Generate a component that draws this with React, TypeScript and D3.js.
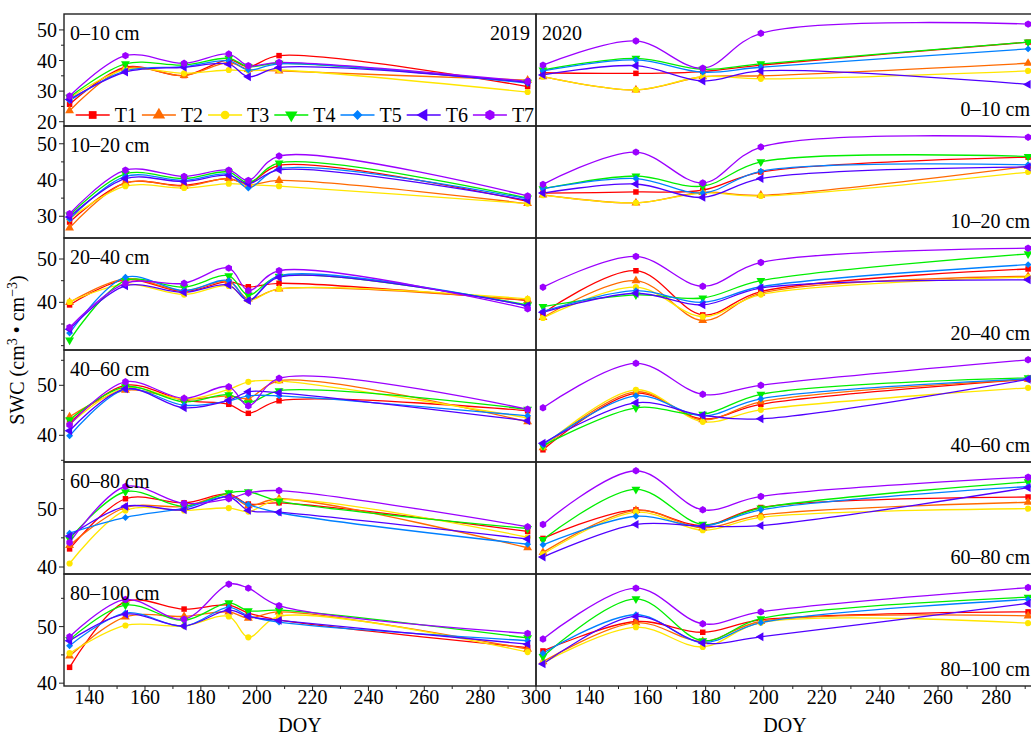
import React, { useRef, useEffect } from "react";
import * as d3 from "d3";

// sampling days (DOY) for each year
const doy2019 = [133, 153, 174, 190, 197, 208, 297];
const doy2020 = [124, 156, 179, 199, 291];

const treatments = ["T1", "T2", "T3", "T4", "T5", "T6", "T7"];
const colors = ["#ff0000", "#ff6a00", "#ffe600", "#00ee00", "#0080ff", "#5000ff", "#9b00ff"];
const depths = ["0–10 cm", "10–20 cm", "20–40 cm", "40–60 cm", "60–80 cm", "80–100 cm"];

// rows = T1..T7, columns = sampling days
const swc2019_0_10 = [
  [25.7, 37.8, 35.1, 40.2, 38.0, 41.6, 31.5],
  [23.6, 37.5, 35.1, 39.3, 37.1, 36.6, 33.6],
  [27.7, 37.1, 35.8, 36.9, 36.7, 36.9, 29.7],
  [28.0, 38.9, 38.5, 40.7, 38.0, 39.1, 32.9],
  [26.9, 36.6, 38.0, 39.9, 36.9, 38.9, 32.6],
  [27.3, 36.2, 37.8, 38.8, 34.7, 37.7, 32.9],
  [28.4, 41.6, 39.1, 42.1, 38.3, 39.4, 33.2],
];
const swc2020_0_10 = [
  [36.0, 35.8, 36.4, 38.5, 46.0],
  [34.7, 30.4, 34.7, 35.0, 39.1],
  [34.7, 30.4, 34.7, 34.0, 36.6],
  [36.9, 40.7, 37.1, 38.9, 46.0],
  [36.6, 40.2, 36.2, 37.8, 43.8],
  [35.3, 38.3, 33.3, 36.6, 32.2],
  [38.5, 46.4, 37.5, 48.9, 51.9],
];
const swc2019_10_20 = [
  [28.4, 39.2, 38.5, 40.4, 39.0, 44.0, 34.1],
  [26.8, 39.2, 38.3, 40.4, 38.7, 39.9, 33.5],
  [29.3, 38.3, 37.8, 39.0, 38.7, 38.3, 33.5],
  [30.3, 41.7, 40.4, 42.2, 39.2, 44.7, 35.0],
  [29.2, 41.0, 39.9, 41.6, 37.8, 43.1, 34.8],
  [29.8, 40.4, 39.6, 41.3, 39.0, 42.8, 34.4],
  [30.7, 42.7, 41.0, 42.7, 39.9, 46.6, 35.6],
];
const swc2020_10_20 = [
  [36.4, 36.7, 37.2, 42.2, 46.3],
  [35.9, 33.7, 36.6, 35.8, 43.8],
  [35.8, 33.7, 36.4, 35.6, 42.2],
  [37.6, 41.1, 38.3, 45.0, 46.5],
  [37.6, 40.4, 36.4, 42.4, 44.2],
  [36.4, 38.9, 35.2, 40.4, 43.6],
  [38.8, 47.7, 39.2, 49.1, 51.8],
];
const swc2019_20_40 = [
  [39.4, 45.2, 42.5, 44.8, 43.6, 44.4, 40.4],
  [40.0, 45.4, 42.7, 44.8, 40.8, 43.1, 40.5],
  [40.1, 44.2, 41.8, 43.8, 40.5, 43.1, 40.8],
  [31.3, 45.0, 43.5, 46.1, 41.7, 46.0, 39.4],
  [32.9, 45.8, 42.7, 45.0, 40.5, 46.1, 39.2],
  [33.8, 43.8, 42.3, 44.0, 40.4, 45.8, 39.2],
  [34.2, 44.4, 44.4, 47.9, 42.7, 47.3, 38.5],
];
const swc2020_20_40 = [
  [37.5, 47.3, 37.1, 42.5, 47.7],
  [36.5, 45.0, 35.8, 42.1, 46.0],
  [36.4, 43.5, 36.7, 41.8, 45.8],
  [39.0, 41.7, 41.0, 45.0, 51.2],
  [37.9, 42.7, 40.0, 43.6, 48.7],
  [37.7, 42.1, 39.4, 43.3, 45.2],
  [43.5, 50.6, 43.7, 49.2, 52.5],
];
const swc2019_40_60 = [
  [42.5, 50.0, 47.0, 46.2, 44.4, 46.9, 44.9],
  [43.7, 49.0, 47.2, 47.9, 47.4, 50.9, 42.7],
  [42.2, 49.5, 47.2, 49.2, 50.7, 50.9, 43.5],
  [43.1, 49.7, 46.7, 48.1, 46.5, 48.9, 45.2],
  [39.9, 49.2, 46.0, 46.9, 47.9, 47.9, 43.9],
  [40.9, 49.3, 45.5, 47.0, 48.7, 48.5, 42.9],
  [42.1, 50.7, 47.4, 49.7, 45.9, 51.4, 45.2],
];
const swc2020_40_60 = [
  [37.1, 48.4, 43.3, 46.2, 51.2],
  [37.5, 48.7, 43.1, 46.7, 51.2],
  [37.7, 49.1, 42.7, 45.1, 49.5],
  [37.9, 45.5, 44.2, 48.2, 51.5],
  [38.1, 47.9, 43.9, 47.3, 51.3],
  [38.4, 46.5, 44.0, 43.3, 51.2],
  [45.5, 54.4, 48.2, 50.0, 55.1],
];
const swc2019_60_80 = [
  [43.1, 51.7, 51.0, 52.5, 50.8, 51.0, 46.1],
  [43.7, 50.2, 50.4, 52.4, 50.5, 51.7, 43.3],
  [40.6, 49.7, 49.7, 50.1, 49.5, 51.5, 45.1],
  [44.8, 52.9, 50.4, 52.7, 52.9, 51.3, 46.6],
  [45.8, 48.5, 50.1, 52.1, 50.7, 49.3, 43.9],
  [45.3, 50.4, 49.8, 52.0, 49.7, 49.4, 44.8],
  [44.2, 53.8, 50.9, 51.7, 52.7, 53.1, 46.9],
];
const swc2020_60_80 = [
  [44.9, 49.8, 47.1, 50.2, 52.0],
  [42.5, 49.7, 46.7, 48.9, 51.1],
  [42.2, 49.4, 46.3, 48.5, 50.0],
  [44.7, 53.3, 47.3, 50.1, 54.6],
  [43.8, 48.7, 47.0, 49.8, 53.8],
  [41.7, 47.3, 47.0, 47.1, 53.6],
  [47.3, 56.5, 49.8, 52.1, 55.4],
];
const swc2019_80_100 = [
  [42.8, 54.4, 53.1, 53.8, 52.4, 51.2, 46.3],
  [44.8, 51.7, 51.8, 52.6, 51.5, 52.6, 46.0],
  [45.3, 50.2, 50.1, 51.8, 48.1, 51.8, 45.5],
  [47.7, 53.8, 51.1, 54.2, 52.8, 52.9, 48.0],
  [46.6, 52.4, 50.1, 53.4, 51.9, 50.8, 47.5],
  [47.5, 52.2, 50.1, 52.9, 51.8, 51.1, 46.9],
  [48.2, 54.8, 51.3, 57.5, 56.8, 53.7, 48.8],
];
const swc2020_80_100 = [
  [45.7, 50.9, 49.0, 51.2, 52.6],
  [43.8, 50.7, 47.4, 50.9, 51.9],
  [43.6, 49.9, 46.4, 50.7, 50.6],
  [44.7, 54.9, 47.5, 51.4, 55.2],
  [45.3, 52.1, 47.2, 50.7, 54.8],
  [43.4, 51.8, 47.1, 48.2, 54.1],
  [47.8, 56.8, 50.5, 52.6, 56.9],
];

const rows2019 = [swc2019_0_10, swc2019_10_20, swc2019_20_40, swc2019_40_60, swc2019_60_80, swc2019_80_100];
const rows2020 = [swc2020_0_10, swc2020_10_20, swc2020_20_40, swc2020_40_60, swc2020_60_80, swc2020_80_100];

// y axis per depth row
const yDomains = [[18.6, 55.2], [24.0, 54.9], [29.0, 54.85], [34.66, 57.06], [38.8, 58.0], [39.5, 59.3]];
const yTicks = [[20, 25, 30, 35, 40, 45, 50], [30, 35, 40, 45, 50], [30, 35, 40, 45, 50], [35, 40, 45, 50, 55], [40, 45, 50, 55], [40, 45, 50, 55]];
const yLabels = [[20, 30, 40, 50], [30, 40, 50], [40, 50], [40, 50], [40, 50], [40, 50]];

const FONT = "'Liberation Serif', 'Times New Roman', serif";

const symbolHex = {
  draw(ctx, size) {
    const r = Math.sqrt(size / (1.5 * Math.sqrt(3)));
    for (let i = 0; i < 6; i++) {
      const a = (Math.PI / 3) * i + Math.PI / 6;
      if (i === 0) ctx.moveTo(r * Math.cos(a), r * Math.sin(a));
      else ctx.lineTo(r * Math.cos(a), r * Math.sin(a));
    }
    ctx.closePath();
  },
};
const markerTypes = [d3.symbolSquare, d3.symbolTriangle, d3.symbolCircle, d3.symbolTriangle, d3.symbolSquare, d3.symbolTriangle, symbolHex];
const markerRot = [0, 0, 0, 180, 45, -90, 0];
const markerSize = [30, 34, 30, 34, 24, 34, 36];

const App = () => {
  const svgRef = useRef(null);

  useEffect(() => {
    const svg = d3.select(svgRef.current);
    svg.selectAll("*").remove();

    const top = 14, rowH = 112;
    const xL = d3.scaleLinear().domain([131, 300]).range([64, 536]);
    const xR = d3.scaleLinear().domain([121.6, 292]).range([536, 1031]);

    const drawMarker = (g, i, cx, cy, scale = 1) => {
      g.append("path")
        .attr("d", d3.symbol().type(markerTypes[i]).size(markerSize[i] * scale)())
        .attr("transform", `translate(${cx},${cy}) rotate(${markerRot[i]})`)
        .attr("fill", colors[i]);
    };

    depths.forEach((depth, r) => {
      const y0 = top + r * rowH;
      const y = d3.scaleLinear().domain(yDomains[r]).range([y0 + rowH, y0]);

      [[xL, doy2019, rows2019[r]], [xR, doy2020, rows2020[r]]].forEach(([x, days, series]) => {
        const g = svg.append("g");
        const line = d3.line()
          .x(d => x(d[0]))
          .y(d => y(d[1]))
          .curve(d3.curveCatmullRom.alpha(0.5));
        series.forEach((vals, i) => {
          const pts = vals.map((v, k) => [days[k], v]);
          g.append("path")
            .attr("d", line(pts))
            .attr("fill", "none")
            .attr("stroke", colors[i])
            .attr("stroke-width", 1.3);
        });
        series.forEach((vals, i) => {
          vals.forEach((v, k) => drawMarker(g, i, x(days[k]), y(v)));
        });
      });

      // frames
      svg.append("rect").attr("x", 64).attr("y", y0).attr("width", 472).attr("height", rowH)
        .attr("fill", "none").attr("stroke", "#222").attr("stroke-width", 1.4);
      svg.append("rect").attr("x", 536).attr("y", y0).attr("width", 500).attr("height", rowH)
        .attr("fill", "none").attr("stroke", "#222").attr("stroke-width", 1.4);

      // y ticks
      yTicks[r].forEach(t => {
        const major = yLabels[r].includes(t);
        svg.append("line").attr("x1", 64).attr("x2", 64 - (major ? 5 : 3))
          .attr("y1", y(t)).attr("y2", y(t)).attr("stroke", "#222");
      });
      yLabels[r].forEach(t => {
        svg.append("text").attr("x", 57).attr("y", y(t)).attr("dy", "0.35em")
          .attr("text-anchor", "end").style("font-family", FONT).style("font-size", "20px")
          .text(t);
      });

      // panel labels
      svg.append("text").attr("x", 70).attr("y", y0 + 26)
        .style("font-family", FONT).style("font-size", "20px").text(depth);
      svg.append("text").attr("x", 1030).attr("y", y0 + rowH - 10).attr("text-anchor", "end")
        .style("font-family", FONT).style("font-size", "20px").text(depth);
    });

    svg.append("text").attr("x", 530).attr("y", 40).attr("text-anchor", "end")
      .style("font-family", FONT).style("font-size", "20px").text("2019");
    svg.append("text").attr("x", 542).attr("y", 40)
      .style("font-family", FONT).style("font-size", "20px").text("2020");

    // bottom axes
    const bottom = top + 6 * rowH;
    const xAxisTicks = (x, majors, minors) => {
      minors.forEach(t => {
        svg.append("line").attr("x1", x(t)).attr("x2", x(t)).attr("y1", bottom).attr("y2", bottom + 3).attr("stroke", "#222");
      });
      majors.forEach(t => {
        svg.append("line").attr("x1", x(t)).attr("x2", x(t)).attr("y1", bottom).attr("y2", bottom + 5).attr("stroke", "#222");
        svg.append("text").attr("x", x(t)).attr("y", 704).attr("text-anchor", "middle")
          .style("font-family", FONT).style("font-size", "20px").text(t);
      });
    };
    xAxisTicks(xL, d3.range(140, 301, 20), d3.range(150, 300, 20));
    xAxisTicks(xR, d3.range(140, 281, 20), d3.range(130, 292, 20));

    svg.append("text").attr("x", 300).attr("y", 732).attr("text-anchor", "middle")
      .style("font-family", FONT).style("font-size", "20px").text("DOY");
    svg.append("text").attr("x", 785).attr("y", 732).attr("text-anchor", "middle")
      .style("font-family", FONT).style("font-size", "20px").text("DOY");

    // y title
    const yt = svg.append("text").attr("transform", "translate(24,350) rotate(-90)")
      .attr("text-anchor", "middle").style("font-family", FONT).style("font-size", "20px");
    yt.append("tspan").text("SWC (cm");
    yt.append("tspan").attr("dy", -7).style("font-size", "14px").text("3");
    yt.append("tspan").attr("dy", 7).text(" • cm");
    yt.append("tspan").attr("dy", -7).style("font-size", "14px").text("−3");
    yt.append("tspan").attr("dy", 7).text(")");

    // legend
    const lg = svg.append("g");
    treatments.forEach((name, i) => {
      const cx = 92.7 + i * 66.2;
      const cy = 115;
      lg.append("line").attr("x1", cx - 17).attr("x2", cx + 17).attr("y1", cy).attr("y2", cy)
        .attr("stroke", colors[i]).attr("stroke-width", 1.3);
      drawMarker(lg, i, cx, cy, 2);
      lg.append("text").attr("x", cx + 22).attr("y", cy).attr("dy", "0.35em")
        .style("font-family", FONT).style("font-size", "20px").text(name);
    });
  }, []);

  return (
    <svg ref={svgRef} width={1031} height={738}
      style={{ position: "absolute", left: 0, top: 0, background: "#fff" }} />
  );
};

export default App;
